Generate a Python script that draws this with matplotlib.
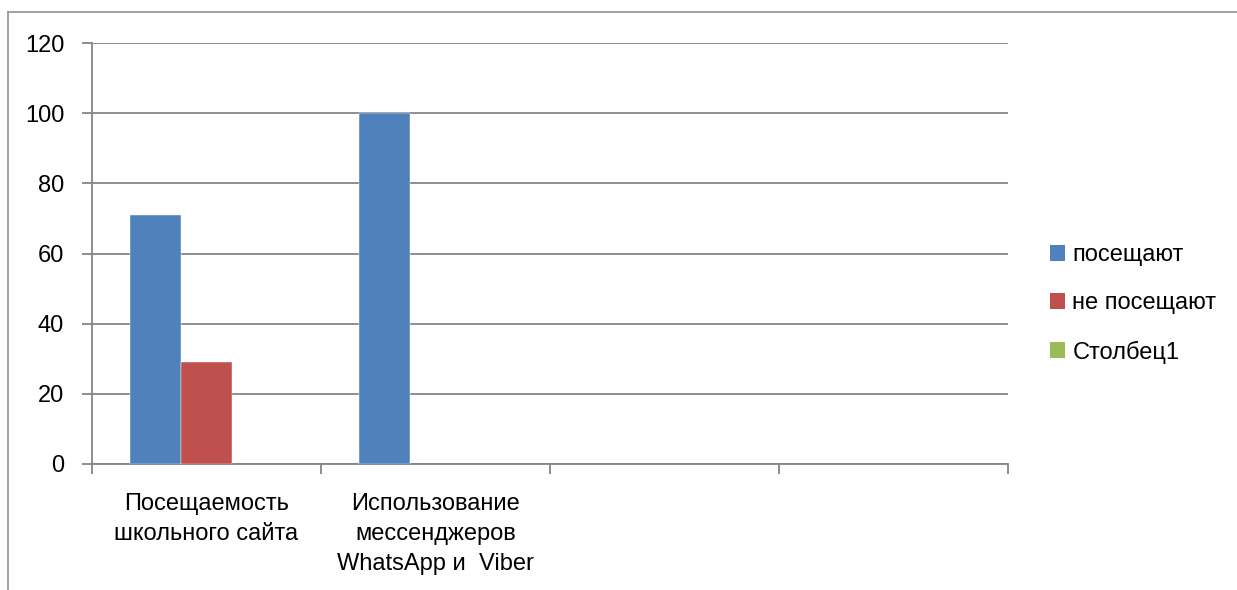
import numpy as np
import matplotlib
matplotlib.use("Agg")
import matplotlib.pyplot as plt
from matplotlib.lines import Line2D
from matplotlib.patches import Patch

categories = ["Посещаемость\nшкольного сайта",
              "Использование\nмессенджеров\nWhatsApp и  Viber",
              "", ""]
series_names = ["посещают", "не посещают", "Столбец1"]
posesch = [71, 100, np.nan, np.nan]
ne_posesch = [29, np.nan, np.nan, np.nan]
stolbec1 = [np.nan, np.nan, np.nan, np.nan]
colors = ["#4f81bd", "#c0504d", "#9bbb59"]
yticks = [0, 20, 40, 60, 80, 100, 120]

plt.rcParams['font.family'] = ['Liberation Sans', 'DejaVu Sans']
fs = 17
grid_c = "#868686"

fig = plt.figure(figsize=(12.37, 5.90), dpi=100)
ax = fig.add_axes([92/1237, 1-464/590, (1008-92)/1237, (464-43)/590])

x = np.arange(len(categories)) + 0.5
w = 1/4.5
for i, (vals, c) in enumerate(zip([posesch, ne_posesch, stolbec1], colors)):
    ax.bar(x + (i-1)*w, vals, width=w, color=c, zorder=3,
           edgecolor="white", linewidth=0.3)

ax.set_xlim(0, 4)
ax.set_ylim(0, 120)
ax.set_yticks(yticks)
ax.set_yticklabels([str(v) for v in yticks], fontsize=fs)
ax.yaxis.grid(True, color=grid_c, linewidth=1.3, zorder=0)
ax.set_xticks(np.arange(5))
ax.set_xticklabels([])
ax.set_xticks(x, minor=True)
ax.set_xticklabels(categories, minor=True, fontsize=fs, linespacing=1.48, va="top")
ax.tick_params(axis="x", which="minor", length=0, pad=21)
ax.tick_params(axis="x", which="major", length=7, color=grid_c, width=1.3)
ax.tick_params(axis="y", length=7, color=grid_c, width=1.3, pad=13)
for s in ["top", "right"]:
    ax.spines[s].set_visible(False)
for s in ["left", "bottom"]:
    ax.spines[s].set_color(grid_c)
    ax.spines[s].set_linewidth(1.3)

handles = [Patch(facecolor=c, edgecolor="none") for c in colors]
ax.legend(handles, series_names, loc="center left", bbox_to_anchor=(1050/1237, 1-304/590),
          bbox_transform=fig.transFigure, frameon=False, fontsize=fs,
          handlelength=0.65, handleheight=0.65, handletextpad=0.3, labelspacing=1.1,
          borderaxespad=0, borderpad=0)

# outer chart frame
fig.add_artist(Line2D([8/1237, 8/1237], [0, 1-12/590], color="#9a9a9a", linewidth=1.3))
fig.add_artist(Line2D([8/1237, 1], [1-12/590, 1-12/590], color="#9a9a9a", linewidth=1.3))

fig.savefig("out.png", dpi=100)
